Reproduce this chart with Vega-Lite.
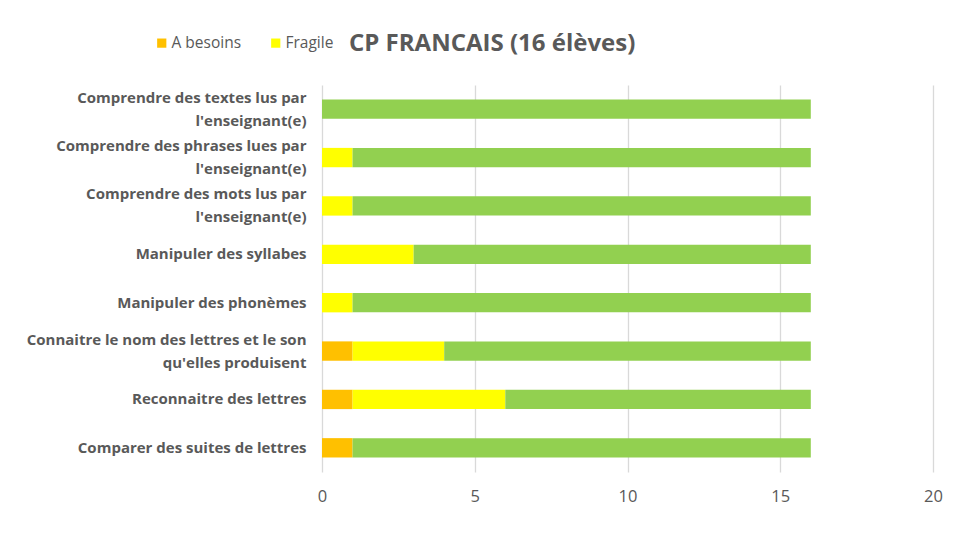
{
  "$schema": "https://vega.github.io/schema/vega-lite/v6.json",
  "width": 611,
  "height": 387,
  "autosize": "none",
  "padding": {"left": 322, "top": 85, "right": 25, "bottom": 88},
  "background": "white",
  "title": {
    "text": "CP FRANCAIS (16 élèves)",
    "anchor": "start",
    "frame": "group",
    "dx": 27,
    "dy": 47,
    "fontSize": 24,
    "font": "Open Sans",
    "fontWeight": "bold",
    "color": "#595959",
    "offset": 26
  },
  "data": {
    "values": [
      {"task": "Comprendre des textes lus par\nl'enseignant(e)", "status": "A besoins", "count": 0, "rank": 1},
      {"task": "Comprendre des textes lus par\nl'enseignant(e)", "status": "Fragile", "count": 0, "rank": 2},
      {"task": "Comprendre des textes lus par\nl'enseignant(e)", "status": "Acquis", "count": 16, "rank": 3},
      {"task": "Comprendre des phrases lues par\nl'enseignant(e)", "status": "A besoins", "count": 0, "rank": 1},
      {"task": "Comprendre des phrases lues par\nl'enseignant(e)", "status": "Fragile", "count": 1, "rank": 2},
      {"task": "Comprendre des phrases lues par\nl'enseignant(e)", "status": "Acquis", "count": 15, "rank": 3},
      {"task": "Comprendre des mots lus par\nl'enseignant(e)", "status": "A besoins", "count": 0, "rank": 1},
      {"task": "Comprendre des mots lus par\nl'enseignant(e)", "status": "Fragile", "count": 1, "rank": 2},
      {"task": "Comprendre des mots lus par\nl'enseignant(e)", "status": "Acquis", "count": 15, "rank": 3},
      {"task": "Manipuler des syllabes", "status": "A besoins", "count": 0, "rank": 1},
      {"task": "Manipuler des syllabes", "status": "Fragile", "count": 3, "rank": 2},
      {"task": "Manipuler des syllabes", "status": "Acquis", "count": 13, "rank": 3},
      {"task": "Manipuler des phonèmes", "status": "A besoins", "count": 0, "rank": 1},
      {"task": "Manipuler des phonèmes", "status": "Fragile", "count": 1, "rank": 2},
      {"task": "Manipuler des phonèmes", "status": "Acquis", "count": 15, "rank": 3},
      {"task": "Connaitre le nom des lettres et le son\nqu'elles produisent", "status": "A besoins", "count": 1, "rank": 1},
      {"task": "Connaitre le nom des lettres et le son\nqu'elles produisent", "status": "Fragile", "count": 3, "rank": 2},
      {"task": "Connaitre le nom des lettres et le son\nqu'elles produisent", "status": "Acquis", "count": 12, "rank": 3},
      {"task": "Reconnaitre des lettres", "status": "A besoins", "count": 1, "rank": 1},
      {"task": "Reconnaitre des lettres", "status": "Fragile", "count": 5, "rank": 2},
      {"task": "Reconnaitre des lettres", "status": "Acquis", "count": 10, "rank": 3},
      {"task": "Comparer des suites de lettres", "status": "A besoins", "count": 1, "rank": 1},
      {"task": "Comparer des suites de lettres", "status": "Fragile", "count": 0, "rank": 2},
      {"task": "Comparer des suites de lettres", "status": "Acquis", "count": 15, "rank": 3}
    ]
  },
  "mark": {"type": "bar"},
  "encoding": {
    "y": {
      "field": "task",
      "type": "nominal",
      "sort": null,
      "scale": {"paddingInner": 0.6, "paddingOuter": 0.3},
      "axis": {
        "title": null,
        "labelExpr": "split(datum.label, '\\n')",
        "labelFont": "Open Sans",
        "labelFontSize": 15,
        "labelFontWeight": "bold",
        "labelColor": "#595959",
        "labelLineHeight": 23,
        "labelOffset": {"condition": {"test": "indexof(datum.label, '\\n') >= 0", "value": -11.5}, "value": 0},
        "labelPadding": 16,
        "labelLimit": 400,
        "ticks": false,
        "domain": false,
        "grid": false
      }
    },
    "x": {
      "field": "count",
      "type": "quantitative",
      "stack": "zero",
      "scale": {"domain": [0, 20], "nice": false},
      "axis": {
        "title": null,
        "values": [0, 5, 10, 15, 20],
        "labelFont": "Open Sans",
        "labelFontSize": 16.5,
        "labelColor": "#595959",
        "labelFlush": false,
        "labelPadding": 16,
        "ticks": false,
        "domain": false,
        "grid": true,
        "gridColor": "#d9d9d9",
        "gridWidth": 1.3
      }
    },
    "color": {
      "field": "status",
      "type": "nominal",
      "scale": {
        "domain": ["A besoins", "Fragile", "Acquis"],
        "range": ["#FFC000", "#FFFF00", "#92D050"]
      },
      "legend": {
        "title": null,
        "values": ["A besoins", "Fragile"],
        "orient": "none",
        "direction": "horizontal",
        "legendX": -168,
        "legendY": -50,
        "symbolType": "square",
        "symbolSize": 85,
        "symbolStrokeWidth": 0,
        "labelFont": "Open Sans",
        "labelFontSize": 15.5,
        "labelColor": "#595959",
        "labelOffset": 2,
        "columnPadding": 26
      }
    },
    "order": {"field": "rank", "type": "quantitative"}
  },
  "config": {"view": {"stroke": null}}
}
